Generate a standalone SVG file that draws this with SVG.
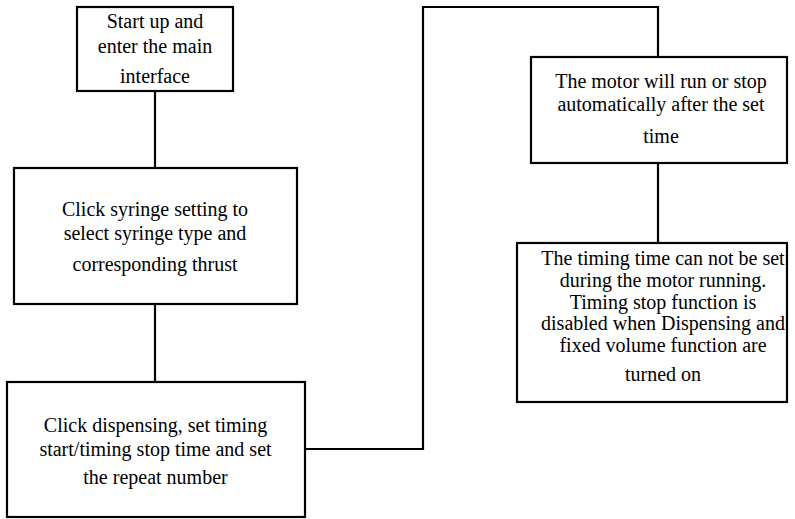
<svg xmlns="http://www.w3.org/2000/svg" width="795" height="519" viewBox="0 0 795 519">
<style>
.box{fill:#fff;stroke:#000;stroke-width:2.2}
.ln{fill:none;stroke:#000;stroke-width:2.2}
text{font-family:'Liberation Serif','Tinos','DejaVu Serif',serif;font-size:20px;fill:#000;text-anchor:middle}
</style>
<rect width="795" height="519" fill="#fff"/>
<g id="connectors">
<path class="ln" d="M155 91V168"/>
<path class="ln" d="M155 304V382"/>
<path class="ln" d="M305 449H423V7H658V57"/>
<path class="ln" d="M658 163V243"/>
</g>
<g id="n1">
<rect class="box" x="77" y="7" width="156" height="84"/>
<text x="155" y="28">Start up and</text>
<text x="155" y="53">enter the main</text>
<text x="155" y="83">interface</text>
</g>
<g id="n2">
<rect class="box" x="14" y="168" width="283" height="136"/>
<text x="155" y="216">Click syringe setting to</text>
<text x="155" y="240">select syringe type and</text>
<text x="155" y="271">corresponding thrust</text>
</g>
<g id="n3">
<rect class="box" x="7" y="382" width="298" height="135"/>
<text x="155.5" y="432">Click dispensing, set timing</text>
<text x="155.5" y="456">start/timing stop time and set</text>
<text x="155.5" y="484">the repeat number</text>
</g>
<g id="n4">
<rect class="box" x="531" y="57" width="256" height="106"/>
<text x="661" y="88">The motor will run or stop</text>
<text x="661" y="111">automatically after the set</text>
<text x="661" y="143">time</text>
</g>
<g id="n5">
<rect class="box" x="517" y="243" width="270" height="159"/>
<text x="663" y="265">The timing time can not be set</text>
<text x="663" y="287">during the motor running.</text>
<text x="663" y="309">Timing stop function is</text>
<text x="663" y="330">disabled when Dispensing and</text>
<text x="663" y="352">fixed volume function are</text>
<text x="663" y="381">turned on</text>
</g>
</svg>
